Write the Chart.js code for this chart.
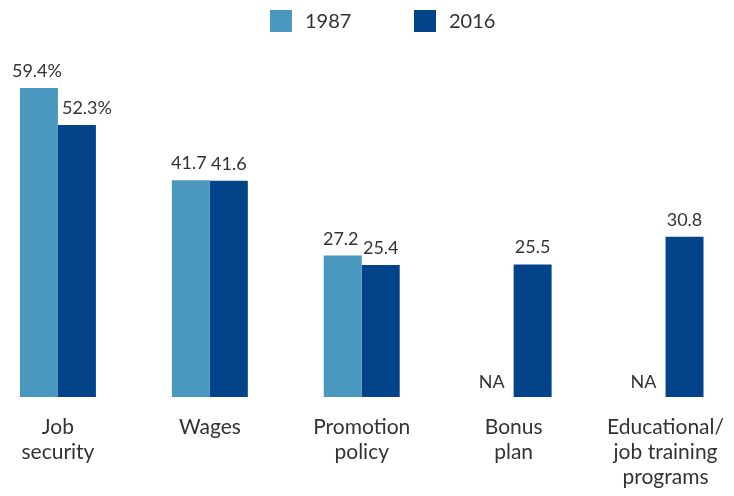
<!DOCTYPE html>
<html lang="en">
<head>
    <meta charset="UTF-8">
    <title>Workplace priorities, 1987 vs 2016</title>
    <script src="https://cdn.jsdelivr.net/npm/chart.js"></script>
    <style>
        html, body { margin: 0; padding: 0; background: #fff; overflow: hidden; }
        #wrap { position: absolute; left: -18px; top: 0; width: 760px; height: 496px; }
    </style>
</head>
<body>
    <div id="wrap"><canvas id="chart"></canvas></div>

    <script>
        // chart values
        const categories = [
            ["Job", "security"],
            ["Wages"],
            ["Promotion", "policy"],
            ["Bonus", "plan"],
            ["Educational/", "job training", "programs"]
        ];
        const years = ["1987", "2016"];
        const values1987 = [59.4, 41.7, 27.2, null, null];
        const values2016 = [52.3, 41.6, 25.4, 25.5, 30.8];
        const colors = ["#4a98c0", "#03438a"];

        const textColor = "#333333";
        const fontFamily = "Lato, 'Noto Sans', sans-serif";

        // value labels above the bars, "NA" where a year has no value
        const valueLabels = {
            id: "valueLabels",
            afterDatasetsDraw(chart) {
                const ctx = chart.ctx;
                const base = chart.scales.y.getPixelForValue(0);
                ctx.save();
                ctx.font = "18px " + fontFamily;
                ctx.fillStyle = textColor;
                ctx.textAlign = "center";
                ctx.textBaseline = "alphabetic";
                chart.data.datasets.forEach((ds, di) => {
                    const meta = chart.getDatasetMeta(di);
                    meta.data.forEach((bar, i) => {
                        const v = ds.data[i];
                        if (v === null) {
                            ctx.fillText("NA", bar.x - 3, base - 9);
                            return;
                        }
                        const text = v.toFixed(1) + (i === 0 ? "%" : "");
                        const w = ctx.measureText(text).width;
                        let x = bar.x;
                        const y = bar.y - 11;
                        if (di === 0) {
                            x -= 2;
                        }
                        // keep the label clear of a taller neighbouring bar on the left
                        if (di > 0) {
                            const prev = chart.getDatasetMeta(di - 1).data[i];
                            const pv = chart.data.datasets[di - 1].data[i];
                            const prevRight = prev.x + prev.width / 2;
                            if (pv !== null && prev.y < y && x - w / 2 < prevRight + 4) {
                                x = prevRight + 4 + w / 2;
                            }
                        }
                        ctx.fillText(text, x, y);
                    });
                });
                ctx.restore();
            }
        };

        // legend squares across the top
        const topLegend = {
            id: "topLegend",
            afterDraw(chart) {
                const ctx = chart.ctx;
                const starts = [288, 432];
                ctx.save();
                ctx.font = "20px " + fontFamily;
                ctx.textBaseline = "middle";
                ctx.textAlign = "left";
                chart.data.datasets.forEach((ds, di) => {
                    const x = starts[di];
                    ctx.fillStyle = ds.backgroundColor;
                    ctx.fillRect(x, 10, 22, 22);
                    ctx.fillStyle = textColor;
                    ctx.fillText(ds.label, x + 35, 22);
                });
                ctx.restore();
            }
        };

        new Chart(document.getElementById("chart"), {
            type: "bar",
            data: {
                labels: categories,
                datasets: [
                    { label: years[0], data: values1987, backgroundColor: colors[0] },
                    { label: years[1], data: values2016, backgroundColor: colors[1] }
                ]
            },
            options: {
                responsive: true,
                maintainAspectRatio: false,
                animation: false,
                layout: { padding: { top: 33, left: 0, right: 0, bottom: 0 } },
                datasets: {
                    bar: { categoryPercentage: 0.5, barPercentage: 1.0, borderWidth: 0 }
                },
                plugins: {
                    legend: { display: false },
                    tooltip: { enabled: false }
                },
                scales: {
                    x: {
                        grid: { display: false, drawTicks: false },
                        border: { display: false },
                        ticks: {
                            color: textColor,
                            padding: 18,
                            maxRotation: 0,
                            autoSkip: false,
                            font: { family: fontFamily, size: 21, lineHeight: 1.19 }
                        },
                        afterFit(scale) { scale.height = 99; }
                    },
                    y: {
                        display: false,
                        min: 0,
                        max: 70
                    }
                }
            },
            plugins: [valueLabels, topLegend]
        });
    </script>
</body>
</html>
